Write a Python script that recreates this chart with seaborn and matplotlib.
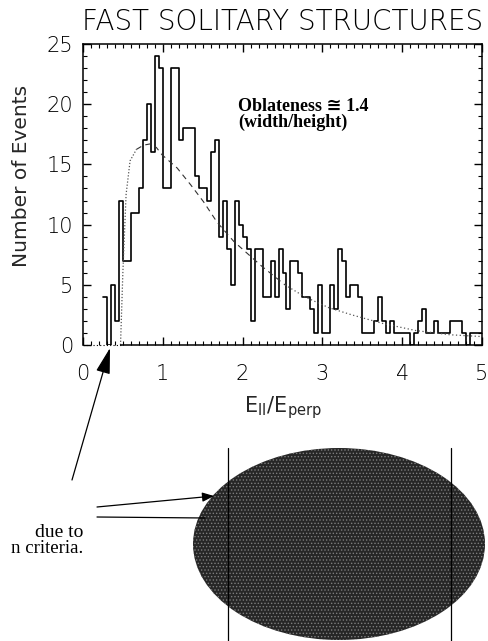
import numpy as np
import pandas as pd
import matplotlib
matplotlib.use("Agg")
import matplotlib.pyplot as plt
from matplotlib.patches import Ellipse
import seaborn as sns

# Histogram of E_par/E_perp, bins 0.05 wide starting at 0.25
bin_start = 0.25
bin_width = 0.05
counts = [4, 0, 5, 2, 12, 7, 7, 11, 11, 13,
          17, 20, 16, 24, 23, 13, 13, 23, 23, 17,
          18, 18, 18, 14, 13, 13, 12, 16, 17, 9,
          12, 8, 5, 12, 10, 9, 8, 2, 8, 8,
          4, 4, 7, 4, 8, 6, 3, 7, 7, 6,
          4, 4, 3, 1, 5, 1, 1, 5, 3, 8,
          7, 4, 5, 5, 4, 1, 1, 1, 2, 4,
          2, 1, 2, 1, 1, 1, 1, 0, 1, 2,
          3, 1, 1, 2, 1, 1, 1, 2, 2, 2,
          1, 0, 1, 1, 1]

# model curve (oblateness 1.4)
fit_x = [0.47, 0.50, 0.54, 0.59, 0.67, 0.76, 0.84, 0.92, 0.99, 1.18, 1.35, 1.51,
         1.68, 1.89, 2.23, 2.53, 2.78, 3.08, 3.37, 3.75, 4.17, 4.60, 5.00]
fit_y = [0.0, 6.1, 12.5, 15.3, 16.25, 16.6, 16.7, 16.4, 15.8, 14.7, 13.3, 11.9,
         10.2, 8.6, 6.6, 5.0, 4.0, 3.1, 2.5, 1.8, 1.2, 0.85, 0.7]

x_ticks = [0, 1, 2, 3, 4, 5]
y_ticks = [0, 5, 10, 15, 20, 25]

n_bins = len(counts)
centers = bin_start + bin_width * (np.arange(n_bins) + 0.5)
hist_df = pd.DataFrame({"ratio": centers, "n": counts})
fit_df = pd.DataFrame({"x": fit_x, "y": fit_y})

sns.set_style("ticks")
plt.rcParams["font.family"] = ["DejaVu Sans"]
plt.rcParams["font.weight"] = "light"
plt.rcParams["text.color"] = "black"
plt.rcParams["xtick.color"] = "black"
plt.rcParams["ytick.color"] = "black"
plt.rcParams["mathtext.default"] = "regular"
serif = ["Liberation Serif", "DejaVu Sans"]

fig = plt.figure(figsize=(4.89, 6.41), dpi=100)
W, H = 489, 641
ax = fig.add_axes([83 / W, 1 - 345 / H, 399 / W, 301 / H])

sns.histplot(data=hist_df, x="ratio", weights="n", binwidth=bin_width,
             binrange=(bin_start, bin_start + bin_width * n_bins), element="step",
             fill=False, color="black", linewidth=1.2, ax=ax)

# fit curve: dotted rise, dashed middle, dotted tail
seg1 = fit_df[fit_df.x <= 0.67]
seg2 = fit_df[(fit_df.x >= 0.67) & (fit_df.x <= 2.53)]
seg3 = fit_df[fit_df.x >= 2.53]
sns.lineplot(data=seg1, x="x", y="y", sort=False, estimator=None, color="#555555",
             linewidth=0.9, linestyle=(0, (1, 1.5)), ax=ax)
sns.lineplot(data=seg2, x="x", y="y", sort=False, estimator=None, color="#333333",
             linewidth=0.8, linestyle=(0, (5, 4)), ax=ax)
sns.lineplot(data=seg3, x="x", y="y", sort=False, estimator=None, color="#555555",
             linewidth=0.9, linestyle=(0, (1, 2)), ax=ax)

ax.set_xlim(0, 5)
ax.set_ylim(0, 25)
ax.set_xticks(x_ticks)
ax.set_yticks(y_ticks)
ax.set_xticks(np.arange(0, 5.01, 0.1), minor=True)
ax.set_yticks(np.arange(0, 25.01, 1), minor=True)
ax.tick_params(which="both", direction="in", top=True, right=True, color="black")
ax.tick_params(which="major", length=6, width=1.0)
ax.tick_params(which="minor", length=3, width=0.8)
ax.tick_params(axis="x", which="major", pad=14, labelsize=15)
ax.tick_params(axis="y", which="major", pad=7, labelsize=15)
for s in ax.spines.values():
    s.set_linewidth(1.1)
    s.set_visible(True)
    s.set_color("black")
# bottom axis is only faint (dotted) left of the model cut-off
ax.spines["bottom"].set_bounds(fit_x[0], 5)
ax.plot([0, fit_x[0]], [0, 0], color="black", lw=0.8, linestyle=(0, (1, 2)), clip_on=False)

ax.set_xlabel(r"E$_{II}$/E$_{perp}$", fontsize=15, labelpad=7)
ax.set_ylabel("Number of Events", fontsize=14.5)
ax.yaxis.set_label_coords(-0.13, 0.563)

ax.text(1.94, 19.4, "Oblateness \u2245 1.4", ha="left", va="baseline",
        fontsize=13, fontweight="bold", family=serif)
ax.text(1.94, 18.1, "(width/height)", ha="left", va="baseline",
        fontsize=13, fontweight="bold", family=serif)

fig.text(282.5 / W, 1 - 30 / H, "FAST SOLITARY STRUCTURES", ha="center",
         va="baseline", fontsize=20)

# lower part of the page, in pixel coordinates
ov = fig.add_axes([0, 0, 1, 1], facecolor="none")
ov.set_xlim(0, W)
ov.set_ylim(H, 0)
ov.axis("off")
ov.set_zorder(-1)

plt.rcParams["hatch.linewidth"] = 0.6
ov.add_patch(Ellipse((339, 544), 292, 192, facecolor="#262626", edgecolor="#7d7d7d",
                     hatch=".....", linewidth=0))
ov.plot([228, 228], [448, H], color="black", lw=0.9)
ov.plot([451, 451], [448, H], color="black", lw=0.9)

ov.annotate("", xy=(110, 348), xytext=(72, 480),
            arrowprops=dict(arrowstyle="-|>,head_length=0.8,head_width=0.22",
                            color="black", lw=0.9, mutation_scale=20, shrinkA=0, shrinkB=0))
ov.annotate("", xy=(214, 496), xytext=(97, 507),
            arrowprops=dict(arrowstyle="-|>,head_length=0.5,head_width=0.2",
                            color="black", lw=0.9, mutation_scale=14, shrinkA=0, shrinkB=0))
ov.plot([97, 205], [517, 518], color="black", lw=0.9)

ov.text(83, 537, "due to", ha="right", va="baseline", fontsize=14, family=serif)
ov.text(83, 553, "n criteria.", ha="right", va="baseline", fontsize=13.5, family=serif)

fig.savefig("out.png", dpi=100)
